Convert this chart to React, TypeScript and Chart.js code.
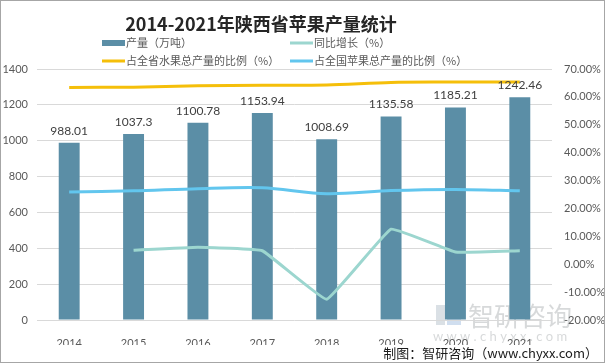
import React, { useEffect, useRef } from "react";
import { Chart, registerables } from "chart.js";

Chart.register(...registerables);

const categories = ["2014", "2015", "2016", "2017", "2018", "2019", "2020", "2021"];
const production = [988.01, 1037.3, 1100.78, 1153.94, 1008.69, 1135.58, 1185.21, 1242.46];
const growth = [null, 4.99, 6.12, 4.83, -12.59, 12.58, 4.37, 4.83];
const provinceShare = [63.4, 63.5, 64.0, 64.2, 64.3, 65.2, 65.3, 65.3];
const nationalShare = [25.9, 26.3, 27.1, 27.4, 25.3, 26.4, 26.8, 26.3];
const leftTicks = [0, 200, 400, 600, 800, 1000, 1200, 1400];
const rightTicks = [-20, -10, 0, 10, 20, 30, 40, 50, 60, 70];

const titleText = "2014-2021年陕西省苹果产量统计";
const seriesNames = ["产量（万吨）", "同比增长（%）", "占全省水果总产量的比例（%）", "占全国苹果总产量的比例（%）"];
const sourceText = "制图：智研咨询（www.chyxx.com）";

const BAR = "#5b8ea6";
const GREEN = "#9cd6cf";
const YELLOW = "#f5bf0a";
const BLUE = "#62c6ee";
const TEXT = "#595959";
const FONT = "Lato, 'Noto Sans CJK SC', sans-serif";
const CJK = "'Noto Sans CJK SC', sans-serif";

const decorPlugin = {
  id: "decor",
  beforeDraw(chart: any) {
    const ctx = chart.ctx;
    ctx.save();
    ctx.fillStyle = "#ffffff";
    ctx.fillRect(0, 0, chart.width, chart.height);
    // watermark
    ctx.fillStyle = "rgba(150,165,180,0.35)";
    ctx.fillRect(436, 305, 9, 20);
    ctx.fillRect(447, 305, 14, 9);
    ctx.fillStyle = "rgba(120,160,210,0.35)";
    ctx.fillRect(447, 316, 14, 9);
    ctx.fillStyle = "rgba(140,145,150,0.35)";
    ctx.font = "26px " + CJK;
    ctx.textBaseline = "middle";
    ctx.textAlign = "left";
    ctx.fillText("智研咨询", 468, 316);
    ctx.font = "13px " + FONT;
    ctx.fillText("w w w . c h y x x . c o m", 433, 337);
    ctx.restore();
  },
  afterDraw(chart: any) {
    const ctx = chart.ctx;
    ctx.save();
    // title
    ctx.fillStyle = "#262626";
    ctx.font = "bold 18px " + CJK;
    ctx.textAlign = "center";
    ctx.textBaseline = "middle";
    ctx.fillText(titleText, 261, 24);
    // legend
    const colors = [BAR, GREEN, YELLOW, BLUE];
    const pos = [
      [102, 43],
      [290, 43],
      [102, 61],
      [290, 61],
    ];
    ctx.font = "11px " + CJK;
    ctx.textAlign = "left";
    for (let i = 0; i < 4; i++) {
      const [x, y] = pos[i];
      ctx.fillStyle = colors[i];
      if (i === 0) ctx.fillRect(x, y - 3, 23, 6);
      else ctx.fillRect(x, y - 1.5, 23, 3);
      ctx.fillStyle = TEXT;
      ctx.fillText(seriesNames[i], x + 24, y);
    }
    // source
    ctx.fillStyle = "#1a1a1a";
    ctx.font = "13px " + CJK;
    ctx.textAlign = "right";
    ctx.fillText(sourceText, 598, 353);
    // border
    ctx.strokeStyle = "#a6a6a6";
    ctx.lineWidth = 1;
    ctx.strokeRect(0.5, 0.5, chart.width - 2, chart.height - 2);
    ctx.restore();
  },
  afterDatasetsDraw(chart: any) {
    const ctx = chart.ctx;
    const meta = chart.getDatasetMeta(0);
    ctx.save();
    ctx.fillStyle = "#404040";
    ctx.font = "12px " + FONT;
    ctx.textAlign = "center";
    ctx.textBaseline = "middle";
    meta.data.forEach((bar: any, i: number) => {
      ctx.fillText(String(production[i]), bar.x, bar.y - 12);
    });
    ctx.restore();
  },
};

export default function App() {
  const ref = useRef<HTMLCanvasElement>(null);
  useEffect(() => {
    document.body.style.margin = "0";
    const chart = new Chart(ref.current!, {
      type: "bar",
      data: {
        labels: categories,
        datasets: [
          {
            type: "bar",
            label: seriesNames[0],
            data: production,
            backgroundColor: BAR,
            yAxisID: "y",
            barPercentage: 0.65,
            categoryPercentage: 0.5,
            order: 2,
          },
          {
            type: "line",
            label: seriesNames[1],
            data: growth as any,
            borderColor: GREEN,
            borderWidth: 3,
            pointRadius: 0,
            tension: 0.08,
            yAxisID: "y1",
            order: 1,
          },
          {
            type: "line",
            label: seriesNames[2],
            data: provinceShare,
            borderColor: YELLOW,
            borderWidth: 3,
            pointRadius: 0,
            tension: 0.3,
            yAxisID: "y1",
            order: 1,
          },
          {
            type: "line",
            label: seriesNames[3],
            data: nationalShare,
            borderColor: BLUE,
            borderWidth: 3,
            pointRadius: 0,
            tension: 0.3,
            yAxisID: "y1",
            order: 1,
          },
        ] as any,
      },
      options: {
        animation: false,
        responsive: false,
        layout: { padding: { top: 69, bottom: 19, left: 0, right: 0 } },
        plugins: { legend: { display: false }, title: { display: false }, tooltip: { enabled: false } },
        scales: {
          x: {
            grid: { display: false },
            border: { display: false },
            ticks: { color: TEXT, font: { family: FONT, size: 11 }, padding: 9 },
            afterFit(s: any) {
              s.height = 25;
            },
          },
          y: {
            position: "left",
            min: 0,
            max: 1400,
            afterBuildTicks(s: any) {
              s.ticks = leftTicks.map((v) => ({ value: v }));
            },
            grid: { color: "#d9d9d9", drawTicks: false, lineWidth: 1 },
            border: { display: false },
            ticks: {
              color: TEXT,
              font: { family: FONT, size: 11 },
              padding: 9,
              callback: (v: any) => String(v),
            },
            afterFit(s: any) {
              s.width = 37;
            },
          },
          y1: {
            position: "right",
            min: -20,
            max: 70,
            afterBuildTicks(s: any) {
              s.ticks = rightTicks.map((v) => ({ value: v }));
            },
            grid: { display: false, drawTicks: false },
            border: { display: false },
            ticks: {
              color: TEXT,
              font: { family: FONT, size: 11 },
              padding: 12,
              callback: (v: any) => Number(v).toFixed(2) + "%",
            },
            afterFit(s: any) {
              s.width = 54;
            },
          },
        },
      },
      plugins: [decorPlugin],
    });
    return () => chart.destroy();
  }, []);
  return (
    <div style={{ position: "fixed", left: 0, top: 0, width: 606, height: 364 }}>
      <canvas ref={ref} width={606} height={364} style={{ width: 606, height: 364 }} />
    </div>
  );
}
